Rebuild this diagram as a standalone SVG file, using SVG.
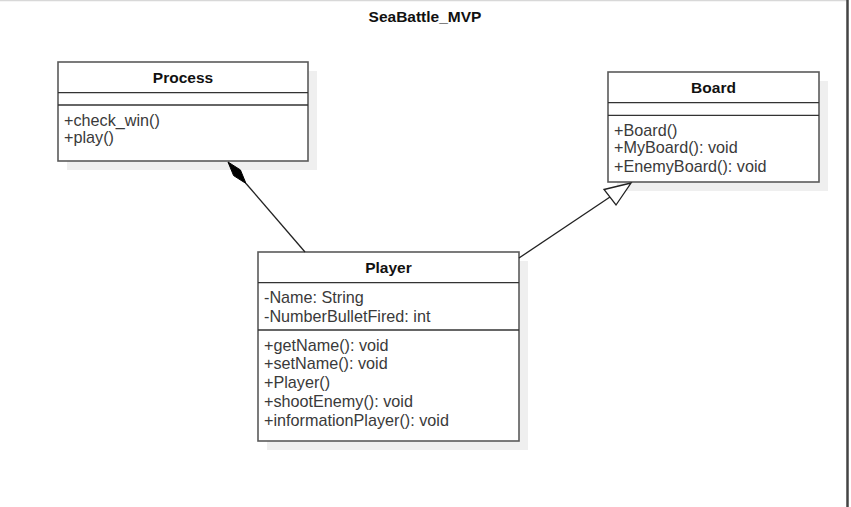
<svg xmlns="http://www.w3.org/2000/svg" width="851" height="507" viewBox="0 0 851 507">
<style>
.shadow{fill:#efefef;stroke:none}
.box{fill:#fff;stroke:#5a5a5a;stroke-width:1.6}
.div{stroke:#333;stroke-width:1.3}
.t{font-family:"Liberation Sans",Arial,sans-serif;font-size:16.2px;fill:#3a3a3a}
.h{font-family:"Liberation Sans",Arial,sans-serif;font-size:15.5px;font-weight:bold;fill:#111;text-anchor:middle}
.edge{stroke:#222;stroke-width:1.3;fill:none}
</style>
<rect x="0" y="0" width="851" height="507" fill="#fff"/>
<line x1="0" y1="0.5" x2="848" y2="0.5" stroke="#d8d8d8" stroke-width="1.5"/>
<line x1="847.5" y1="0" x2="847.5" y2="507" stroke="#444" stroke-width="2.5"/>
<text class="h" x="425" y="22">SeaBattle_MVP</text>

<g id="process">
  <rect class="shadow" x="67" y="71" width="250" height="99"/>
  <rect class="box" x="58" y="62" width="250" height="99"/>
  <line class="div" x1="58" y1="92.7" x2="308" y2="92.7"/>
  <line class="div" x1="58" y1="105" x2="308" y2="105"/>
  <text class="h" x="183" y="82.5">Process</text>
  <text class="t" x="64" y="126">+check_win()</text>
  <text class="t" x="64" y="143">+play()</text>
</g>

<g id="board">
  <rect class="shadow" x="617" y="81" width="211" height="110"/>
  <rect class="box" x="608" y="72" width="211" height="110"/>
  <line class="div" x1="608" y1="102.7" x2="819" y2="102.7"/>
  <line class="div" x1="608" y1="115.3" x2="819" y2="115.3"/>
  <text class="h" x="713.5" y="92.5">Board</text>
  <text class="t" x="614" y="135.5">+Board()</text>
  <text class="t" x="614" y="153">+MyBoard(): void</text>
  <text class="t" x="614" y="171.5">+EnemyBoard(): void</text>
</g>

<g id="player">
  <rect class="shadow" x="267" y="261" width="261" height="189"/>
  <rect class="box" x="258" y="252" width="261" height="189"/>
  <line class="div" x1="258" y1="282.7" x2="519" y2="282.7"/>
  <line class="div" x1="258" y1="330" x2="519" y2="330"/>
  <text class="h" x="388.5" y="272.5">Player</text>
  <text class="t" x="264" y="303">-Name: String</text>
  <text class="t" x="264" y="321.5">-NumberBulletFired: int</text>
  <text class="t" x="264" y="350.5">+getName(): void</text>
  <text class="t" x="264" y="369">+setName(): void</text>
  <text class="t" x="264" y="388">+Player()</text>
  <text class="t" x="264" y="406.5">+shootEnemy(): void</text>
  <text class="t" x="264" y="425.5">+informationPlayer(): void</text>
</g>

<g id="connectors">
  <line class="edge" x1="305" y1="252" x2="246" y2="183.5"/>
  <path d="M228,162 L233.6,175.6 L246,183.5 L240.4,169.9 Z" fill="#000" stroke="#000" stroke-width="1"/>
  <line class="edge" x1="519" y1="258" x2="610" y2="197"/>
  <path d="M631,183 L604,189.5 L616,205 Z" fill="#fff" stroke="#222" stroke-width="1.3"/>
</g>
</svg>
